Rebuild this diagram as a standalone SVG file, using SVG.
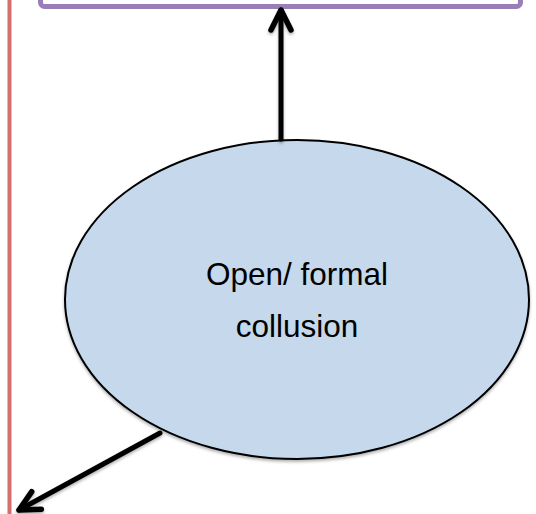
<svg xmlns="http://www.w3.org/2000/svg" width="536" height="514" viewBox="0 0 536 514">
  <style>
    .conn { fill: none; stroke: #000; stroke-width: 5; stroke-linecap: round; stroke-linejoin: round; }
    .lbl { font-family: "Liberation Sans", Arial, sans-serif; font-size: 31.5px; fill: #000; text-anchor: middle; }
  </style>
  <defs>
    <filter id="sh" x="-20%" y="-20%" width="140%" height="140%">
      <feDropShadow dx="0" dy="2" stdDeviation="1.5" flood-color="#000" flood-opacity="0.3"/>
    </filter>
    <marker id="arrow" markerUnits="userSpaceOnUse" markerWidth="40" markerHeight="40" viewBox="-30 -20 40 40" refX="0" refY="0" orient="auto" overflow="visible">
      <path d="M -20 -10 L 0 0 L -20 10" fill="none" stroke="#000" stroke-width="5.5" stroke-linecap="round" stroke-linejoin="round"/>
    </marker>
  </defs>
  <rect width="536" height="514" fill="#fff"/>
  <g id="boundary">
    <line x1="9.5" y1="0" x2="9.5" y2="514" stroke="#d4706b" stroke-width="4"/>
  </g>
  <g id="top-box">
    <rect x="40.5" y="-40" width="480" height="46.5" rx="4" fill="#fff" stroke="#9880b6" stroke-width="5"/>
  </g>
  <g id="collusion">
    <ellipse cx="297" cy="299.5" rx="232" ry="159.5" fill="#c5d8ec" stroke="#000" stroke-width="2" filter="url(#sh)"/>
    <text class="lbl" x="297" y="285">Open/ formal</text>
    <text class="lbl" x="297" y="337">collusion</text>
  </g>
  <g id="connectors" filter="url(#sh)">
    <line class="conn" x1="281" y1="139" x2="281" y2="10" marker-end="url(#arrow)"/>
    <line class="conn" x1="160" y1="433" x2="19" y2="510" marker-end="url(#arrow)"/>
  </g>
</svg>
